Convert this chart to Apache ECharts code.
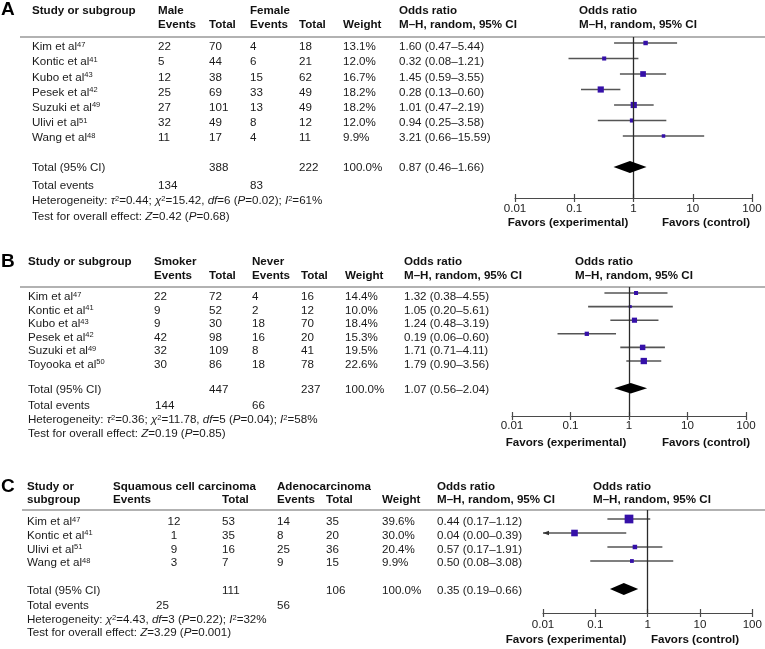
<!DOCTYPE html>
<html><head><meta charset="utf-8">
<script src="https://cdn.jsdelivr.net/npm/echarts@6/dist/echarts.min.js"></script>
<style>html,body{margin:0;padding:0;background:#fff}#c{width:765px;height:649px}</style>
</head><body><div id="c"></div>
<script>
// ---------------- DATA ----------------
const tickLabels = ['0.01', '0.1', '1', '10', '100'];

// Panel A: male vs female
const studiesA = ['Kim et al', 'Kontic et al', 'Kubo et al', 'Pesek et al', 'Suzuki et al', 'Ulivi et al', 'Wang et al'];
const refsA = ['47', '41', '43', '42', '49', '51', '48'];
const eventsA1 = [22, 5, 12, 25, 27, 32, 11];
const totalA1 = [70, 44, 38, 69, 101, 49, 17];
const eventsA2 = [4, 6, 15, 33, 13, 8, 4];
const totalA2 = [18, 21, 62, 49, 49, 12, 11];
const weightA = [13.1, 12.0, 16.7, 18.2, 18.2, 12.0, 9.9];
const orA = [1.60, 0.32, 1.45, 0.28, 1.01, 0.94, 3.21];
const loA = [0.47, 0.08, 0.59, 0.13, 0.47, 0.25, 0.66];
const hiA = [5.44, 1.21, 3.55, 0.60, 2.19, 3.58, 15.59];
const pooledA = [0.87, 0.46, 1.66];
const sumTotalsA = [388, 222];
const sumEventsA = [134, 83];
const hetA = ['0.44', '15.42', '6', '0.02', '61'];
const effectA = ['0.42', '0.68'];

// Panel B: smoker vs never
const studiesB = ['Kim et al', 'Kontic et al', 'Kubo et al', 'Pesek et al', 'Suzuki et al', 'Toyooka et al'];
const refsB = ['47', '41', '43', '42', '49', '50'];
const eventsB1 = [22, 9, 9, 42, 32, 30];
const totalB1 = [72, 52, 30, 98, 109, 86];
const eventsB2 = [4, 2, 18, 16, 8, 18];
const totalB2 = [16, 12, 70, 20, 41, 78];
const weightB = [14.4, 10.0, 18.4, 15.3, 19.5, 22.6];
const orB = [1.32, 1.05, 1.24, 0.19, 1.71, 1.79];
const loB = [0.38, 0.20, 0.48, 0.06, 0.71, 0.90];
const hiB = [4.55, 5.61, 3.19, 0.60, 4.11, 3.56];
const pooledB = [1.07, 0.56, 2.04];
const sumTotalsB = [447, 237];
const sumEventsB = [144, 66];
const hetB = ['0.36', '11.78', '5', '0.04', '58'];
const effectB = ['0.19', '0.85'];

// Panel C: squamous cell carcinoma vs adenocarcinoma
const studiesC = ['Kim et al', 'Kontic et al', 'Ulivi et al', 'Wang et al'];
const refsC = ['47', '41', '51', '48'];
const eventsC1 = [12, 1, 9, 3];
const totalC1 = [53, 35, 16, 7];
const eventsC2 = [14, 8, 25, 9];
const totalC2 = [35, 20, 36, 15];
const weightC = [39.6, 30.0, 20.4, 9.9];
const orC = [0.44, 0.04, 0.57, 0.50];
const loC = [0.17, 0.00, 0.17, 0.08];
const hiC = [1.12, 0.39, 1.91, 3.08];
const pooledC = [0.35, 0.19, 0.66];
const sumTotalsC = [111, 106];
const sumEventsC = [25, 56];
const hetC = ['4.43', '3', '0.22', '32'];
const effectC = ['3.29', '0.001'];

// ---------------- LAYOUT / STYLE ----------------
const FONT = '"Liberation Sans", Arial, Helvetica, sans-serif';
const FS = 11.6;
const TXT = '#1a1a1a';
const MARK = '#3510a8';
const g = [];

function rich(extra) {
  return Object.assign({
    n: { fontFamily: FONT, fontSize: FS, lineHeight: 13, fill: TXT, color: TXT },
    i: { fontFamily: FONT, fontSize: FS, lineHeight: 13, fontStyle: 'italic', fill: TXT, color: TXT },
    s: { fontFamily: FONT, fontSize: 7.5, lineHeight: 7, verticalAlign: 'top', fill: TXT, color: TXT }
  }, extra || {});
}
function T(x, y, text, o) {
  o = o || {};
  const style = {
    text: String(text), x: 0, y: 0,
    fill: o.fill || TXT,
    font: (o.bold ? 'bold ' : '') + (o.size || FS) + 'px ' + FONT,
    textAlign: o.align || 'left', textVerticalAlign: 'middle', verticalAlign: 'middle'
  };
  if (o.rich) style.rich = rich();
  g.push({ type: 'text', x: x, y: y, silent: true, z: 10, style: style });
}
function HL(x1, x2, y) {
  g.push({ type: 'line', silent: true, shape: { x1: x1, y1: y, x2: x2, y2: y }, style: { stroke: '#666', lineWidth: 1.1 } });
}
const fmtOR = (e, l, h) => e.toFixed(2) + ' (' + l.toFixed(2) + '\u2013' + h.toFixed(2) + ')';

function panelText(L, d) {
  T(1, L.letterY, L.letter, { bold: true, size: 19, fill: '#000' });
  L.headers.forEach(h => T(h[0], h[1], h[2], { bold: true, fill: '#111' }));
  HL(L.lineX, 765, L.line);
  d.studies.forEach((s, k) => {
    const y = L.row0 + L.step * k;
    T(L.name, y, '{n|' + s + '}{s|' + d.refs[k] + '}', { rich: true });
    T(L.c1, y, d.e1[k], { align: L.c1Align || 'left' });
    T(L.c2, y, d.t1[k]);
    T(L.c3, y, d.e2[k]);
    T(L.c4, y, d.t2[k]);
    T(L.w, y, d.w[k].toFixed(1) + '%');
    T(L.or, y, fmtOR(d.or[k], d.lo[k], d.hi[k]));
  });
  T(L.name, L.total, 'Total (95% CI)');
  T(L.c2, L.total, d.sumT[0]);
  T(L.c4, L.total, d.sumT[1]);
  T(L.w, L.total, '100.0%');
  T(L.or, L.total, fmtOR(d.pooled[0], d.pooled[1], d.pooled[2]));
  T(L.name, L.tevents, 'Total events');
  T(L.teX1, L.tevents, d.sumE[0]);
  T(L.c3, L.tevents, d.sumE[1]);
  T(L.name, L.het, d.hetText, { rich: true });
  T(L.name, L.test, '{n|Test for overall effect: }{i|Z}{n|=' + d.eff[0] + ' (}{i|P}{n|=' + d.eff[1] + ')}', { rich: true });
  T(L.favE, L.favY, 'Favors (experimental)', { bold: true, align: 'center', fill: '#111' });
  T(L.favC, L.favY, 'Favors (control)', { bold: true, align: 'center', fill: '#111' });
}

const hetTextTau = h => '{n|Heterogeneity: }{i|\u03c4}{s|2}{n|=' + h[0] + '; }{i|\u03c7}{s|2}{n|=' + h[1] + ', }{i|df}{n|=' + h[2] + ' (}{i|P}{n|=' + h[3] + '); }{i|I}{s|2}{n|=' + h[4] + '%}';
const hetTextC = h => '{n|Heterogeneity: }{i|\u03c7}{s|2}{n|=' + h[0] + ', }{i|df}{n|=' + h[1] + ' (}{i|P}{n|=' + h[2] + '); }{i|I}{s|2}{n|=' + h[3] + '%}';

const LA = {
  letter: 'A', letterY: 10, name: 32, c1: 158, c2: 209, c3: 250, c4: 299, w: 343, or: 399, teX1: 158,
  headers: [[32, 11, 'Study or subgroup'], [158, 11, 'Male'], [158, 25, 'Events'], [209, 25, 'Total'], [250, 11, 'Female'], [250, 25, 'Events'], [299, 25, 'Total'], [343, 25, 'Weight'], [399, 11, 'Odds ratio'], [399, 25, 'M\u2013H, random, 95% CI'], [579, 11, 'Odds ratio'], [579, 25, 'M\u2013H, random, 95% CI']],
  line: 37, lineX: 20, row0: 47, step: 15.2, total: 168, tevents: 186, het: 201, test: 217,
  favE: 568, favC: 706, favY: 223
};
const LB = {
  letter: 'B', letterY: 262, name: 28, c1: 154, c2: 209, c3: 252, c4: 301, w: 345, or: 404, teX1: 155,
  headers: [[28, 262, 'Study or subgroup'], [154, 262, 'Smoker'], [154, 276, 'Events'], [209, 276, 'Total'], [252, 262, 'Never'], [252, 276, 'Events'], [301, 276, 'Total'], [345, 276, 'Weight'], [404, 262, 'Odds ratio'], [404, 276, 'M\u2013H, random, 95% CI'], [575, 262, 'Odds ratio'], [575, 276, 'M\u2013H, random, 95% CI']],
  line: 287, lineX: 20, row0: 297, step: 13.5, total: 390, tevents: 406, het: 420, test: 434,
  favE: 566, favC: 706, favY: 443
};
const LC = {
  letter: 'C', letterY: 487, name: 27, c1: 174, c1Align: 'center', c2: 222, c3: 277, c4: 326, w: 382, or: 437, teX1: 156,
  headers: [[27, 487, 'Study or'], [27, 500, 'subgroup'], [113, 487, 'Squamous cell carcinoma'], [113, 500, 'Events'], [222, 500, 'Total'], [277, 487, 'Adenocarcinoma'], [277, 500, 'Events'], [326, 500, 'Total'], [382, 500, 'Weight'], [437, 487, 'Odds ratio'], [437, 500, 'M\u2013H, random, 95% CI'], [593, 487, 'Odds ratio'], [593, 500, 'M\u2013H, random, 95% CI']],
  line: 510, lineX: 22, row0: 522, step: 13.7, total: 591, tevents: 606, het: 620, test: 633,
  favE: 566, favC: 695, favY: 640
};

panelText(LA, { studies: studiesA, refs: refsA, e1: eventsA1, t1: totalA1, e2: eventsA2, t2: totalA2, w: weightA, or: orA, lo: loA, hi: hiA, pooled: pooledA, sumT: sumTotalsA, sumE: sumEventsA, hetText: hetTextTau(hetA), eff: effectA });
panelText(LB, { studies: studiesB, refs: refsB, e1: eventsB1, t1: totalB1, e2: eventsB2, t2: totalB2, w: weightB, or: orB, lo: loB, hi: hiB, pooled: pooledB, sumT: sumTotalsB, sumE: sumEventsB, hetText: hetTextTau(hetB), eff: effectB });
panelText(LC, { studies: studiesC, refs: refsC, e1: eventsC1, t1: totalC1, e2: eventsC2, t2: totalC2, w: weightC, or: orC, lo: loC, hi: hiC, pooled: pooledC, sumT: sumTotalsC, sumE: sumEventsC, hetText: hetTextC(hetC), eff: effectC });

// ---------------- PLOTS ----------------
const panels = [
  { grid: { left: 515, width: 237, top: 37, height: 161 }, yMin: -0.387, yMax: 10.0, or: orA, lo: loA, hi: hiA, w: weightA, pooled: pooledA, k: 0.34, minS: 3.5, dh: 6, labelMargin: 5 },
  { grid: { left: 512, width: 234, top: 287, height: 129 }, yMin: -0.44, yMax: 9.04, or: orB, lo: loB, hi: hiB, w: weightB, pooled: pooledB, k: 0.28, minS: 3, dh: 5.3, labelMargin: 4 },
  { grid: { left: 543, width: 210, top: 510, height: 103 }, yMin: -0.643, yMax: 6.714, or: orC, lo: loC, hi: hiC, w: weightC, pooled: pooledC, k: 0.22, minS: 3.8, dh: 6, labelMargin: 6 }
];

const grids = [], xAxes = [], yAxes = [], series = [];
panels.forEach((p, i) => {
  grids.push(Object.assign({ containLabel: false }, p.grid));
  xAxes.push({
    type: 'log', logBase: 10, min: 0.01, max: 100, gridIndex: i, position: 'bottom',
    axisLine: { show: true, onZero: false, lineStyle: { color: '#4a4a4a', width: 1.2 } },
    axisTick: { show: true, length: 4, lineStyle: { color: '#4a4a4a', width: 1.2 } },
    minorTick: { show: false }, splitLine: { show: false },
    axisLabel: { fontFamily: FONT, fontSize: FS, color: '#222', margin: p.labelMargin, formatter: v => tickLabels[Math.round(Math.log10(v)) + 2] }
  });
  xAxes.push({
    type: 'log', logBase: 10, min: 0.01, max: 100, gridIndex: i, position: 'bottom',
    axisLine: { show: false, onZero: false }, axisLabel: { show: false }, splitLine: { show: false },
    axisTick: { show: true, inside: true, length: 4, lineStyle: { color: '#4a4a4a', width: 1.2 } }
  });
  yAxes.push({ type: 'value', gridIndex: i, min: p.yMin, max: p.yMax, inverse: true, show: false, splitLine: { show: false } });

  const n = p.or.length;
  const ciData = p.or.map((_, k) => [p.lo[k], p.hi[k], k]);
  const ptData = p.or.map((v, k) => [v, k, p.w[k]]);
  const totalRow = n + 1;

  series.push({
    type: 'custom', xAxisIndex: 2 * i, yAxisIndex: i, z: 2, silent: true,
    encode: { x: [0, 1], y: 2 }, data: ciData,
    renderItem: (params, api) => {
      const lo = api.value(0), hi = api.value(1), row = api.value(2);
      const a = api.coord([Math.max(lo, 0.01), row]);
      const b = api.coord([Math.min(hi, 100), row]);
      const ch = [{ type: 'line', shape: { x1: a[0], y1: a[1], x2: b[0], y2: b[1] }, style: { stroke: '#555', lineWidth: 1.6 } }];
      if (lo < 0.01) {
        ch.push({ type: 'polygon', shape: { points: [[a[0], a[1]], [a[0] + 6, a[1] - 2.3], [a[0] + 6, a[1] + 2.3]] }, style: { fill: '#333' } });
      }
      return { type: 'group', children: ch };
    }
  });
  series.push({
    type: 'scatter', xAxisIndex: 2 * i, yAxisIndex: i, z: 4, silent: true,
    symbol: 'rect', data: ptData,
    symbolSize: v => { const s = Math.max(p.minS, v[2] * p.k); return [s, s]; },
    itemStyle: { color: MARK, opacity: 1 },
    markLine: { silent: true, symbol: 'none', label: { show: false }, lineStyle: { color: '#2a2a2a', width: 1.3, type: 'solid' }, data: [{ xAxis: 1 }], animation: false }
  });
  series.push({
    type: 'custom', xAxisIndex: 2 * i, yAxisIndex: i, z: 5, silent: true,
    encode: { x: [0, 1, 2], y: 3 }, data: [[p.pooled[1], p.pooled[0], p.pooled[2], totalRow]],
    renderItem: (params, api) => {
      const row = api.value(3);
      const a = api.coord([api.value(0), row]), m = api.coord([api.value(1), row]), b = api.coord([api.value(2), row]);
      return { type: 'polygon', shape: { points: [[a[0], a[1]], [m[0], m[1] - p.dh], [b[0], b[1]], [m[0], m[1] + p.dh]] }, style: { fill: '#000' } };
    }
  });
});

const chart = echarts.init(document.getElementById('c'), null, { renderer: 'canvas' });
chart.setOption({
  animation: false,
  backgroundColor: '#fff',
  textStyle: { fontFamily: FONT },
  grid: grids, xAxis: xAxes, yAxis: yAxes, series: series,
  graphic: { elements: g }
});
</script>
</body></html>
